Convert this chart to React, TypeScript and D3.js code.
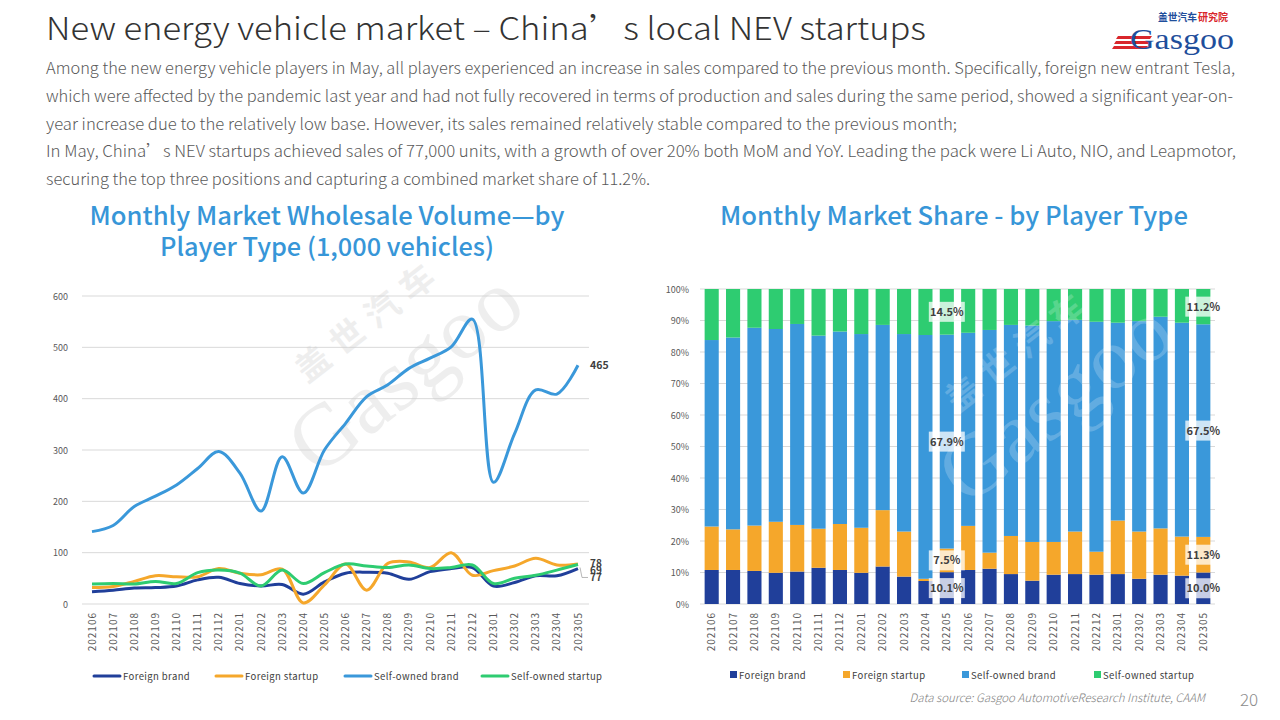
import React from 'react';
import * as d3 from 'd3';

const months = ['202106','202107','202108','202109','202110','202111','202112','202201','202202','202203','202204','202205','202206','202207','202208','202209','202210','202211','202212','202301','202302','202303','202304','202305'];

// Volumes (1,000 vehicles)
const foreignBrand = [24,27,31,32,35,47,52,40,35,38,19,43,60,62,60,48,63,69,71,35,42,55,55,69];
const foreignStartup = [32,34,44,55,53,53,69,60,57,68,2,37,78,27,79,82,71,100,56,65,74,89,76,78];
const selfBrand = [141,153,190,210,232,264,297,255,181,287,216,300,352,404,427,459,479,501,555,237,332,417,409,465];
const selfStartup = [39,40,39,44,40,61,66,60,35,66,40,61,78,74,71,76,69,71,76,40,50,56,66,77];

// Shares (%)
const foreignBrandShare = [10.8,10.8,10.5,9.9,10.3,11.5,10.8,9.9,11.9,8.7,7.3,10.1,10.8,11.2,9.5,7.4,9.3,9.5,9.3,9.5,8.0,9.3,9.0,10.0];
const foreignStartupShare = [13.8,12.9,14.4,16.2,14.8,12.4,14.6,14.3,17.9,14.3,0.7,7.5,14.0,5.1,12.1,12.3,10.4,13.5,7.3,17.0,15.0,14.7,12.4,11.3];
const selfBrandShare = [59.2,60.9,62.8,61.2,63.8,61.3,61.1,61.5,58.8,62.7,77.4,67.9,61.3,70.7,67.0,68.7,70.1,67.2,73.0,62.8,66.8,67.2,67.9,67.5];
const selfStartupShare = [16.2,15.4,12.3,12.7,11.1,14.8,13.5,14.3,11.4,14.3,14.6,14.5,13.9,13.0,11.4,11.6,10.2,9.8,10.4,10.7,10.2,8.8,10.7,11.2];

const seriesNames = ['Foreign brand','Foreign startup','Self-owned brand','Self-owned startup'];
const volumeTicks = [0,100,200,300,400,500,600];
const shareTicks = [0,10,20,30,40,50,60,70,80,90,100];
const labeledShareMonths = ['202205','202305'];

const COLORS = ['#203F9A','#F5A72B','#3A98DA','#2ECC71'];
const FONT = '"Noto Sans CJK SC", "Noto Sans", sans-serif';

const bodyLines = [
  'Among the new energy vehicle players in May, all players experienced an increase in sales compared to the previous month. Specifically, foreign new entrant Tesla,',
  'which were affected by the pandemic last year and had not fully recovered in terms of production and sales during the same period, showed a significant year-on-',
  'year increase due to the relatively low base. However, its sales remained relatively stable compared to the previous month;',
  'In May, China\u2019s NEV startups achieved sales of 77,000 units, with a growth of over 20% both MoM and YoY. Leading the pack were Li Auto, NIO, and Leapmotor,',
  'securing the top three positions and capturing a combined market share of 11.2%.',
];
const bodyWidths = [1189, 1187, 911, 1190, 604];

function Watermark({ x, y, fill, opacity }: { x: number; y: number; fill: string; opacity: number }) {
  return (
    <g transform={`translate(${x},${y}) rotate(-38)`} opacity={opacity} fill={fill} fontFamily={FONT}>
      <text x={40} y={-40} fontSize={34} fontWeight={700} letterSpacing={10}>盖世汽车</text>
      <text x={-10} y={40} fontSize={88} fontWeight={300} fontFamily='"Liberation Serif", serif'>Gasgoo</text>
    </g>
  );
}

function LineChart() {
  const x = d3.scalePoint<string>().domain(months).range([92, 578]);
  const y = d3.scaleLinear().domain([0, 600]).range([604, 296]);
  const line = d3.line<number>()
    .x((_, i) => x(months[i]) as number)
    .y((d) => y(d))
    .curve(d3.curveCatmullRom.alpha(0.5));
  const series = [foreignBrand, foreignStartup, selfBrand, selfStartup];
  const lastX = x(months[months.length - 1]) as number;
  const legendX = [94, 216, 345, 482];
  return (
    <g fontFamily={FONT}>
      {volumeTicks.map((t) => (
        <g key={t}>
          <line x1={82} x2={589} y1={y(t)} y2={y(t)} stroke="#d9d9d9" strokeWidth={1} />
          <text x={68} y={y(t) + 3.5} fontSize={9} fill="#595959" textAnchor="end">{t}</text>
        </g>
      ))}
      <Watermark x={300} y={440} fill="#d0d0d0" opacity={0.35} />
      {months.map((m) => (
        <text key={m} transform={`translate(${(x(m) as number) + 3.5},612) rotate(-90)`} fontSize={10} fill="#595959" textAnchor="end" letterSpacing={1}>{m}</text>
      ))}
      {series.map((s, i) => (
        <path key={i} d={line(s) || ''} fill="none" stroke={COLORS[i]} strokeWidth={3} strokeLinejoin="round" />
      ))}
      <text x={590} y={y(selfBrand[23]) + 4} fontSize={10.5} fontWeight={700} fill="#404040">{selfBrand[23]}</text>
      <text x={590} y={y(foreignStartup[23]) + 3} fontSize={10} fontWeight={700} fill="#404040">{foreignStartup[23]}</text>
      <text x={590} y={y(foreignBrand[23]) + 5} fontSize={10} fontWeight={700} fill="#404040">{foreignBrand[23]}</text>
      <path d={`M${lastX + 2},${y(selfStartup[23]) + 3} L${lastX + 4},${y(selfStartup[23]) + 13} L${lastX + 10},${y(selfStartup[23]) + 13}`} fill="none" stroke="#a6a6a6" strokeWidth={0.8} />
      <text x={590} y={y(selfStartup[23]) + 17} fontSize={10} fontWeight={700} fill="#404040">{selfStartup[23]}</text>
      {seriesNames.map((n, i) => (
        <g key={n}>
          <line x1={legendX[i]} x2={legendX[i] + 26} y1={676} y2={676} stroke={COLORS[i]} strokeWidth={3} strokeLinecap="round" />
          <text x={legendX[i] + 29} y={679.5} fontSize={9.5} fill="#404040" letterSpacing={0.4}>{n}</text>
        </g>
      ))}
    </g>
  );
}

function BarChart() {
  const x = d3.scaleBand<string>().domain(months).range([701, 1214]).paddingInner(0.34).paddingOuter(0.17);
  const y = d3.scaleLinear().domain([0, 100]).range([604, 289]);
  const shares = [foreignBrandShare, foreignStartupShare, selfBrandShare, selfStartupShare];
  const stackData = months.map((m, i) => ({ month: m, s0: shares[0][i], s1: shares[1][i], s2: shares[2][i], s3: shares[3][i] }));
  const stack = d3.stack<any>().keys(['s0', 's1', 's2', 's3']);
  const layers = stack(stackData);
  const legendX = [730, 843, 962, 1094];
  return (
    <g fontFamily={FONT}>
      {shareTicks.map((t) => (
        <g key={t}>
          <line x1={700} x2={1215} y1={y(t)} y2={y(t)} stroke="#d9d9d9" strokeWidth={1} />
          <text x={689} y={y(t) + 3.5} fontSize={9} fill="#595959" textAnchor="end">{t}%</text>
        </g>
      ))}
      {layers.map((layer, li) => (
        <g key={li} fill={COLORS[li]}>
          {layer.map((d, i) => (
            <rect key={i} x={x(months[i]) as number} width={x.bandwidth()} y={y(d[1])} height={Math.max(0, y(d[0]) - y(d[1]))} />
          ))}
        </g>
      ))}
      <Watermark x={950} y={470} fill="#ffffff" opacity={0.2} />
      {layers.map((layer, li) =>
        layer.map((d, i) => {
          if (!labeledShareMonths.includes(months[i])) return null;
          const cx = (x(months[i]) as number) + x.bandwidth() / 2;
          const cy = y((d[0] + d[1]) / 2);
          const label = `${shares[li][i].toFixed(1)}%`;
          return (
            <g key={`${li}-${i}`}>
              <rect x={cx - 18} y={cy - 10} width={36} height={20} fill="#ffffff" opacity={0.75} />
              <text x={cx} y={cy + 4} fontSize={11} fontWeight={700} fill="#404040" textAnchor="middle">{label}</text>
            </g>
          );
        })
      )}
      {months.map((m) => (
        <text key={m} transform={`translate(${(x(m) as number) + x.bandwidth() / 2 + 3.5},612) rotate(-90)`} fontSize={10} fill="#595959" textAnchor="end" letterSpacing={1}>{m}</text>
      ))}
      {seriesNames.map((n, i) => (
        <g key={n}>
          <rect x={legendX[i]} y={671} width={7} height={7} fill={COLORS[i]} />
          <text x={legendX[i] + 9} y={678.5} fontSize={9.5} fill="#404040" letterSpacing={0.4}>{n}</text>
        </g>
      ))}
    </g>
  );
}

function Logo() {
  return (
    <g>
      <text x={1158} y={21} fontSize={10} fontWeight={700} fill="#1F4E9B" fontFamily={FONT} textLength={39} lengthAdjust="spacingAndGlyphs">盖世汽车</text>
      <text x={1198} y={21} fontSize={10} fontWeight={700} fill="#D9262B" fontFamily={FONT} textLength={30} lengthAdjust="spacingAndGlyphs">研究院</text>
      <polygon points="1118,36 1152,36 1150,39 1116,39" fill="#D9262B" />
      <polygon points="1116,41 1150,41 1148,44 1114,44" fill="#D9262B" />
      <polygon points="1114,46 1148,46 1146,49 1112,49" fill="#D9262B" />
      <text x={1130} y={49} fontSize={30} fill="#1F4E9B" fontFamily='"Liberation Serif", serif' textLength={104} lengthAdjust="spacingAndGlyphs">Gasgoo</text>
    </g>
  );
}

export default function App() {
  return (
    <svg width={1280} height={720} style={{ position: 'absolute', left: 0, top: 0, background: '#ffffff' }} xmlns="http://www.w3.org/2000/svg">
      <rect width={1280} height={720} fill="#ffffff" />
      <text x={46} y={40} fontSize={31} fill="#333333" fontFamily={FONT} fontWeight={300} textLength={880} lengthAdjust="spacingAndGlyphs">New energy vehicle market – China’s local NEV startups</text>
      {bodyLines.map((l, i) => (
        <text key={i} x={46} y={74 + i * 27.8} fontSize={16} fill="#595959" fontFamily={FONT} fontWeight={300} textLength={bodyWidths[i]} lengthAdjust="spacingAndGlyphs">{l}</text>
      ))}
      <Logo />
      <text x={327} y={225} fontSize={25} fill="#3796D8" fontFamily={FONT} fontWeight={500} textAnchor="middle" textLength={475} lengthAdjust="spacingAndGlyphs">Monthly Market Wholesale Volume—by</text>
      <text x={327} y={256} fontSize={25} fill="#3796D8" fontFamily={FONT} fontWeight={500} textAnchor="middle" textLength={334} lengthAdjust="spacingAndGlyphs">Player Type (1,000 vehicles)</text>
      <text x={954} y={225} fontSize={25} fill="#3796D8" fontFamily={FONT} fontWeight={500} textAnchor="middle" textLength={468} lengthAdjust="spacingAndGlyphs">Monthly Market Share - by Player Type</text>
      <LineChart />
      <BarChart />
      <text x={1205} y={702} fontSize={11.5} fill="#7f7f7f" fontFamily={FONT} fontWeight={300} fontStyle="italic" textAnchor="end">Data source: Gasgoo AutomotiveResearch Institute, CAAM</text>
      <text x={1240} y={706} fontSize={17} fill="#8c8c8c" fontFamily={FONT} fontWeight={300}>20</text>
    </svg>
  );
}
